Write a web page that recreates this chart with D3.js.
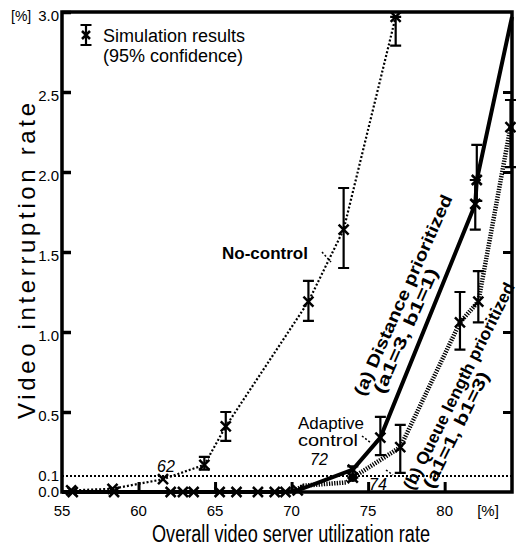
<!DOCTYPE html>
<html>
<head>
<meta charset="utf-8">
<script src="https://cdn.jsdelivr.net/npm/d3@7"></script>
<style>
  body { margin: 0; background: #fff; }
  svg { font-family: "Liberation Sans", Arial, Helvetica, sans-serif; }
</style>
</head>
<body>
<div class="canvas"></div>
<script>
// tick values
const xTicks = [55, 60, 65, 70, 75, 80];
const yTicks = [0, 0.1, 0.5, 1.0, 1.5, 2.0, 2.5, 3.0];

// no-control (thin dotted)
const noCtrlX = [55.6, 58.3, 61.6, 64.3, 65.7, 71.1, 73.4, 76.8];
const noCtrlY = [0.01, 0.02, 0.08, 0.17, 0.41, 1.19, 1.64, 2.97];
const noCtrlLo = [null, null, null, 0.14, 0.32, 1.07, 1.40, 2.79];
const noCtrlHi = [null, null, null, 0.22, 0.50, 1.32, 1.90, 2.97];

// (a) distance prioritized (thick solid)
const aX = [55.0, 55.7, 58.4, 62.1, 62.9, 63.6, 65.3, 66.4, 67.8, 68.9, 69.6, 70.4, 74.0, 75.8, 82.0, 82.1, 84.4];
const aY = [0, 0, 0, 0, 0, 0, 0, 0, 0, 0, 0, 0.01, 0.14, 0.34, 1.80, 1.95, 2.97];
const aLo = [null, null, null, null, null, null, null, null, null, null, null, null, 0.09, 0.23, 1.64, 1.82, null];
const aHi = [null, null, null, null, null, null, null, null, null, null, null, null, 0.16, 0.47, 1.95, 2.17, null];
const aMark = [false, true, true, true, true, true, true, true, true, true, true, true, true, true, true, true, false];

// (b) queue length prioritized (thick hatched)
const bX = [70.0, 70.8, 73.6, 74.0, 77.1, 81.0, 82.2, 84.3];
const bY = [0, 0.04, 0.06, 0.09, 0.28, 1.06, 1.19, 2.28];
const bLo = [null, null, null, null, 0.12, 0.89, 1.06, 2.03];
const bHi = [null, null, null, null, 0.42, 1.25, 1.38, 2.45];
const bMark = [false, false, false, true, true, true, true, true];

const dims = { width: 516, height: 549 };
const frame = { left: 62, right: 512, top: 12, bottom: 492 };

const svg = d3.select('.canvas')
  .append('svg')
  .attr('width', dims.width)
  .attr('height', dims.height);

const x = d3.scaleLinear().domain([55, 84.4]).range([frame.left, frame.right]);
const y = d3.scaleLinear().domain([0, 3]).range([frame.bottom, frame.top]);

// threshold line at 0.1%
svg.append('line')
  .attr('x1', frame.left).attr('x2', frame.right)
  .attr('y1', y(0.1)).attr('y2', y(0.1))
  .attr('stroke', '#000').attr('stroke-width', 1.8)
  .attr('stroke-dasharray', '2,2');

// axes - ticks drawn inward
const yAxisL = d3.axisRight(y).tickValues(yTicks.filter(d => d > 0.1)).tickSize(9).tickFormat('');
const yAxisR = d3.axisLeft(y).tickValues(yTicks.filter(d => d > 0.1 && d < 3)).tickSize(9).tickFormat('');
const xAxisB = d3.axisTop(x).tickValues(xTicks.slice(1)).tickSize(10).tickFormat('');

svg.append('g').attr('transform', `translate(${frame.left},0)`).call(yAxisL)
  .call(g => g.selectAll('line').attr('stroke-width', 3.5));
svg.append('g').attr('transform', `translate(${frame.right},0)`).call(yAxisR)
  .call(g => g.selectAll('line').attr('stroke-width', 3));
svg.append('g').attr('transform', `translate(0,${frame.bottom})`).call(xAxisB)
  .call(g => g.selectAll('line').attr('stroke-width', 3));
svg.selectAll('.domain').remove();

// frame
svg.append('rect')
  .attr('x', frame.left).attr('y', frame.top)
  .attr('width', frame.right - frame.left)
  .attr('height', frame.bottom - frame.top)
  .attr('fill', 'none').attr('stroke', '#000').attr('stroke-width', 3.5);

// tick labels
svg.append('g').selectAll('text')
  .data(yTicks)
  .enter().append('text')
    .attr('x', frame.left - 3)
    .attr('y', d => y(d) + (d < 0.2 ? 5 : 9))
    .attr('text-anchor', 'end')
    .attr('font-size', 15)
    .text(d => d3.format('.1f')(d));

svg.append('text').attr('x', 11).attr('y', 21).attr('font-size', 14).text('[%]');

svg.append('g').selectAll('text')
  .data(xTicks)
  .enter().append('text')
    .attr('x', d => x(d))
    .attr('y', 516)
    .attr('text-anchor', 'middle')
    .attr('font-size', 15)
    .text(d => d);

svg.append('text').attr('x', 488).attr('y', 516).attr('text-anchor', 'middle')
  .attr('font-size', 15).text('[%]');

// axis titles
svg.append('text')
  .attr('x', 291).attr('y', 542)
  .attr('text-anchor', 'middle')
  .attr('font-size', 23)
  .attr('textLength', 278).attr('lengthAdjust', 'spacingAndGlyphs')
  .text('Overall video server utilization rate');

svg.append('text')
  .attr('transform', 'translate(35,261) rotate(-90)')
  .attr('text-anchor', 'middle')
  .attr('font-size', 24)
  .attr('textLength', 316).attr('lengthAdjust', 'spacing')
  .text('Video interruption rate');

// helpers
const cross = (g, cx, cy, s) => {
  g.append('path')
    .attr('d', `M${cx - s},${cy - s}L${cx + s},${cy + s}M${cx - s},${cy + s}L${cx + s},${cy - s}`)
    .attr('stroke', '#000').attr('stroke-width', 2.5).attr('fill', 'none');
};
const errBar = (g, cx, y0, y1) => {
  g.append('path')
    .attr('d', `M${cx},${y0}V${y1}M${cx - 5.5},${y0}H${cx + 5.5}M${cx - 5.5},${y1}H${cx + 5.5}`)
    .attr('stroke', '#000').attr('stroke-width', 2.2).attr('fill', 'none');
};

const line = d3.line().x(d => x(d[0])).y(d => y(d[1]));

// (b) queue length prioritized
svg.append('path')
  .attr('d', line(d3.zip(bX, bY)))
  .attr('fill', 'none').attr('stroke', '#000')
  .attr('stroke-width', 4.5).attr('stroke-dasharray', '1.3,1.3');

// (a) distance prioritized
svg.append('path')
  .attr('d', line(d3.zip(aX, aY)))
  .attr('fill', 'none').attr('stroke', '#000')
  .attr('stroke-width', 4);

// no-control
svg.append('path')
  .attr('d', line(d3.zip(noCtrlX, noCtrlY)))
  .attr('fill', 'none').attr('stroke', '#000')
  .attr('stroke-width', 2.2).attr('stroke-dasharray', '2,2');

// markers and error bars
const marks = svg.append('g');
const drawSeries = (xs, ys, lo, hi, show) => {
  xs.forEach((v, i) => {
    if (show && !show[i]) return;
    if (lo[i] != null) errBar(marks, x(v), y(lo[i]), y(hi[i]));
    cross(marks, x(v), y(ys[i]), 5);
  });
};
drawSeries(noCtrlX, noCtrlY, noCtrlLo, noCtrlHi, null);
drawSeries(aX, aY, aLo, aHi, aMark);
drawSeries(bX, bY, bLo, bHi, bMark);

// blob at the 74 point
marks.append('circle').attr('cx', x(74)).attr('cy', y(0.09)).attr('r', 4.5).attr('fill', '#000');

// legend
const legend = svg.append('g');
errBar(legend, 86, 25, 45);
cross(legend, 86, 35, 4);
legend.append('text').attr('x', 103).attr('y', 42).attr('font-size', 18).text('Simulation results');
legend.append('text').attr('x', 103).attr('y', 62).attr('font-size', 18).text('(95% confidence)');

// annotations
svg.append('text').attr('x', 222).attr('y', 259)
  .attr('font-size', 17).attr('font-weight', 'bold').text('No-control');
svg.append('path').attr('d', 'M322,252L331,262')
  .attr('stroke', '#000').attr('stroke-width', 1.5).attr('stroke-dasharray', '2,2');

svg.append('text').attr('x', 298).attr('y', 429)
  .attr('font-size', 16).attr('textLength', 66).attr('lengthAdjust', 'spacingAndGlyphs').text('Adaptive');
svg.append('text').attr('x', 298).attr('y', 446)
  .attr('font-size', 16).attr('textLength', 60).attr('lengthAdjust', 'spacingAndGlyphs').text('control');
svg.append('path').attr('d', 'M362,436L371,443')
  .attr('stroke', '#000').attr('stroke-width', 1.5).attr('stroke-dasharray', '2,2');
svg.append('path').attr('d', 'M386,470L393,475')
  .attr('stroke', '#000').attr('stroke-width', 1.5).attr('stroke-dasharray', '2,2');

const italic = (tx, ty, s) => svg.append('text').attr('x', tx).attr('y', ty)
  .attr('font-size', 16).attr('font-style', 'italic').text(s);
italic(157, 472, '62');
italic(310, 465, '72');
italic(369, 490, '74');

// rotated curve labels
const rotLabel = (tx, ty, ang, lines, lens) => {
  const g = svg.append('g').attr('transform', `translate(${tx},${ty}) rotate(${ang})`);
  lines.forEach((s, i) => {
    g.append('text').attr('x', i * 10).attr('y', i * 17)
      .attr('font-size', 17).attr('font-weight', 'bold')
      .attr('textLength', lens[i]).attr('lengthAdjust', 'spacingAndGlyphs')
      .text(s);
  });
};
rotLabel(364, 397, -66, ['(a) Distance prioritized', '(a1=3,  b1=1)'], [218, 135]);
rotLabel(413, 491, -63.5, ['(b) Queue length prioritized', '(a1=1,  b1=3)'], [229, 128]);
</script>
</body>
</html>
